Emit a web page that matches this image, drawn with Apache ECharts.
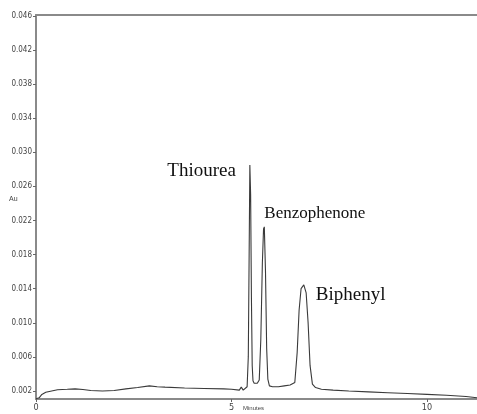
<!DOCTYPE html>
<html>
<head>
<meta charset="utf-8">
<script src="https://cdn.jsdelivr.net/npm/echarts@6/dist/echarts.min.js"></script>
<style>
  html, body { margin: 0; padding: 0; background: #fff; }
  #chart { width: 477px; height: 414px; }
</style>
</head>
<body>
<div id="chart"></div>
<script>
// Retention time (minutes) and detector response (AU) of the chromatogram trace
const timesMin = [
  0.00, 0.08, 0.15, 0.25, 0.40, 0.55, 0.80, 1.00, 1.20, 1.40, 1.70, 2.00,
  2.30, 2.60, 2.90, 3.10, 3.30, 3.80, 4.30, 4.80, 5.00, 5.20, 5.25, 5.30,
  5.35, 5.40, 5.43, 5.45, 5.47, 5.49, 5.51, 5.53, 5.55, 5.58, 5.62, 5.66,
  5.71, 5.75, 5.79, 5.82, 5.84, 5.87, 5.90, 5.93, 5.97, 6.05, 6.20, 6.35,
  6.50, 6.62, 6.68, 6.73, 6.78, 6.85, 6.91, 6.96, 7.01, 7.07, 7.15, 7.30,
  7.60, 8.00, 8.50, 9.00, 9.50, 10.00, 10.50, 11.00, 11.28
];
const absorbanceAU = [
  0.00110, 0.00120, 0.00160, 0.00185, 0.00200, 0.00215, 0.00220, 0.00225, 0.00218, 0.00205, 0.00200, 0.00205,
  0.00225, 0.00240, 0.00260, 0.00250, 0.00245, 0.00235, 0.00230, 0.00225, 0.00220, 0.00210, 0.00245, 0.00210,
  0.00220, 0.00250, 0.00600, 0.01700, 0.02850, 0.02500, 0.01300, 0.00500, 0.00320, 0.00290, 0.00280, 0.00290,
  0.00330, 0.00800, 0.01700, 0.02100, 0.02125, 0.01600, 0.00700, 0.00340, 0.00260, 0.00250, 0.00250, 0.00260,
  0.00270, 0.00300, 0.00650, 0.01150, 0.01400, 0.01444, 0.01350, 0.01000, 0.00500, 0.00280, 0.00240, 0.00220,
  0.00210, 0.00200, 0.00190, 0.00180, 0.00170, 0.00160, 0.00150, 0.00135, 0.00120
];

// Axis ticks
const yTickValues = [0.002, 0.006, 0.010, 0.014, 0.018, 0.022, 0.026, 0.030, 0.034, 0.038, 0.042, 0.046];
const xTickValues = [0, 5, 10];

// Peak annotations: compound, retention time, peak height
const peakNames = ['Thiourea', 'Benzophenone', 'Biphenyl'];
const peakTimes = [5.47, 5.84, 6.85];
const peakHeights = [0.02850, 0.02125, 0.01444];

const chart = echarts.init(document.getElementById('chart'));

const peakLabelStyles = [
  { position: 'left', distance: 14, offset: [0, 6], fontSize: 19 },
  { position: 'right', distance: 0, offset: [0, -13], fontSize: 17 },
  { position: 'right', distance: 12, offset: [0, 10], fontSize: 19 }
];

const axisGray = '#8a8a8a';

chart.setOption({
  animation: false,
  backgroundColor: '#ffffff',
  grid: { left: 36, right: 0, top: 15, bottom: 15, outerBoundsMode: 'none', containLabel: false },
  graphic: [
    { type: 'text', left: 9, top: 196, style: { text: 'Au', fontSize: 7, fill: '#444', fontFamily: 'Liberation Sans' } },
    { type: 'text', left: 243, top: 405, style: { text: 'Minutes', fontSize: 6, fill: '#444', fontFamily: 'Liberation Sans' } }
  ],
  xAxis: [{
    type: 'value',
    min: 0,
    max: 11.28,
    axisLine: { show: true, lineStyle: { color: axisGray, width: 2 } },
    axisTick: { show: true, customValues: xTickValues, length: 3, lineStyle: { color: '#666' } },
    axisLabel: { customValues: xTickValues, fontSize: 9, color: '#444', margin: 4, fontFamily: 'DejaVu Sans Condensed' },
    splitLine: { show: false }
  }, {
    // top frame line
    type: 'value',
    position: 'top',
    min: 0,
    max: 11.28,
    axisLine: { show: true, lineStyle: { color: axisGray, width: 2 } },
    axisTick: { show: false },
    axisLabel: { show: false },
    splitLine: { show: false }
  }],
  yAxis: {
    type: 'value',
    min: 0.00106,
    max: 0.0461,
    axisLine: { show: true, lineStyle: { color: axisGray, width: 2 } },
    axisTick: { show: true, customValues: yTickValues, length: 3, lineStyle: { color: '#666' } },
    axisLabel: {
      customValues: yTickValues,
      fontSize: 8,
      color: '#444',
      margin: 4,
      fontFamily: 'DejaVu Sans Condensed',
      formatter: v => v.toFixed(3)
    },
    splitLine: { show: false }
  },
  series: [{
    type: 'line',
    data: timesMin.map((t, i) => [t, absorbanceAU[i]]),
    showSymbol: false,
    smooth: false,
    lineStyle: { color: '#3a3a3a', width: 1.1 },
    silent: true,
    markPoint: {
      symbol: 'circle',
      symbolSize: 0,
      silent: true,
      data: peakNames.map((name, i) => ({
        coord: [peakTimes[i], peakHeights[i]],
        label: {
          show: true,
          formatter: name,
          position: peakLabelStyles[i].position,
          distance: peakLabelStyles[i].distance,
          offset: peakLabelStyles[i].offset,
          fontFamily: 'Liberation Serif',
          fontSize: peakLabelStyles[i].fontSize,
          color: '#111'
        }
      }))
    }
  }]
});
</script>
</body>
</html>
